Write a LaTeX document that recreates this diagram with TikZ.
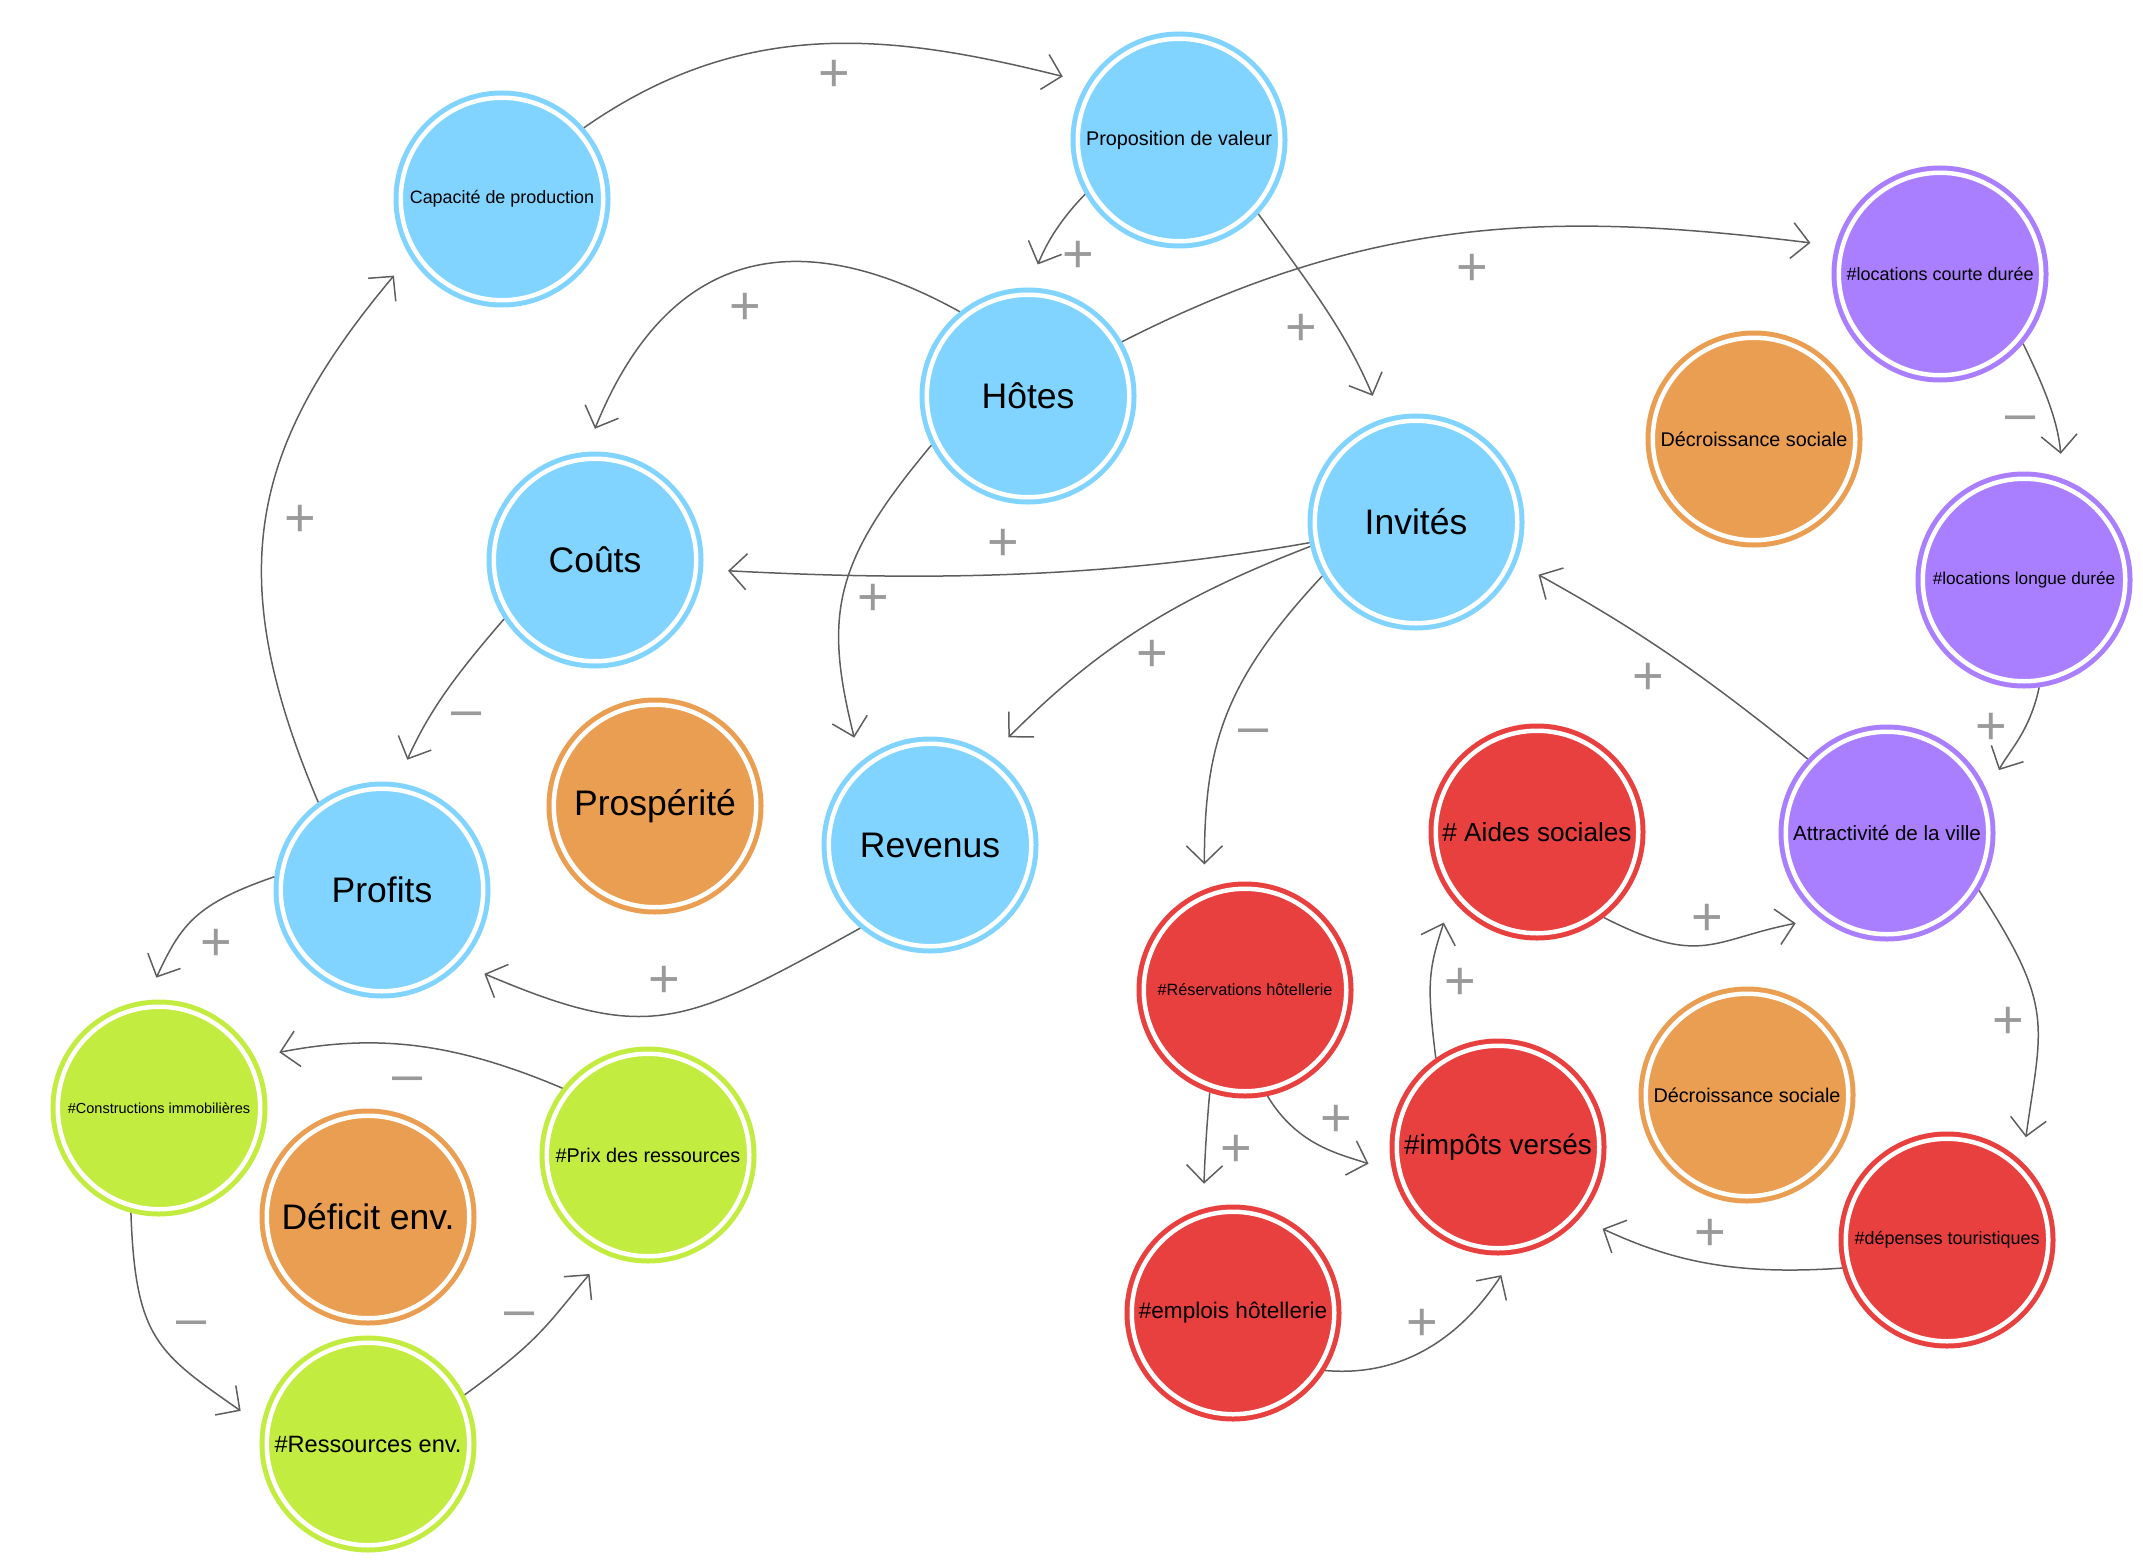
\documentclass[tikz,border=0pt]{standalone}
\usepackage{fontspec}
\setmainfont{Liberation Sans}
\usetikzlibrary{arrows.meta}
\definecolor{skyblue}{HTML}{80D4FF}
\definecolor{sandorange}{HTML}{EA9E52}
\definecolor{lilac}{HTML}{A97FFF}
\definecolor{tomato}{HTML}{E83F3F}
\definecolor{lime}{HTML}{C2EC40}
\definecolor{linkgray}{HTML}{5E5E5E}
\definecolor{signgray}{HTML}{9A9A9A}
\tikzstyle{ring}=[circle,minimum size=2.025cm,inner sep=0pt,outer sep=0.0725cm,line width=0.05cm,double=white,double distance=0.045cm,text=black]
\tikzstyle{bluevertex}=[ring,fill=skyblue,draw=skyblue]
\tikzstyle{orangevertex}=[ring,fill=sandorange,draw=sandorange]
\tikzstyle{purplevertex}=[ring,fill=lilac,draw=lilac]
\tikzstyle{redvertex}=[ring,fill=tomato,draw=tomato]
\tikzstyle{greenvertex}=[ring,fill=lime,draw=lime]
\tikzstyle{link}=[draw=linkgray,line width=0.015cm,-{Straight Barb[length=0.175cm,width=0.36cm]},shorten >=0.25cm]
\tikzstyle{polarity}=[text=signgray,font=\fontsize{15.4}{16}\selectfont,inner sep=0pt]

\begin{document}
\begin{tikzpicture}

    \useasboundingbox (0,0) rectangle (21.43,-15.65);

    % business loop
    \foreach \pos/\name/\fs/\label in {{(5.02,-1.99)/cap/5.1/Capacité de production}, {(11.79,-1.40)/prop/5.63/Proposition de valeur},
        {(10.28,-3.96)/hotes/10.1/Hôtes}, {(5.95,-5.60)/couts/10.1/Coûts}, {(14.16,-5.22)/invites/10.1/Invités},
        {(9.30,-8.45)/revenus/10.1/Revenus}, {(3.82,-8.90)/profits/10.1/Profits}}
        \node[bluevertex] (\name) at \pos {\fontsize{\fs}{\fs}\selectfont \label};

    \foreach \pos/\name/\fs/\label in {{(6.55,-8.06)/prosp/10.1/Prospérité}, {(17.54,-4.39)/decroA/5.63/Décroissance sociale},
        {(17.47,-10.95)/decroB/5.63/Décroissance sociale}, {(3.68,-12.17)/deficit/10.1/Déficit env.}}
        \node[orangevertex] (\name) at \pos {\fontsize{\fs}{\fs}\selectfont \label};

    \foreach \pos/\name/\fs/\label in {{(19.40,-2.74)/lcd/5.12/\#locations courte durée}, {(20.24,-5.80)/lld/4.89/\#locations longue durée},
        {(18.87,-8.33)/attr/5.86/Attractivité de la ville}}
        \node[purplevertex] (\name) at \pos {\fontsize{\fs}{\fs}\selectfont \label};

    \foreach \pos/\name/\fs/\label in {{(15.37,-8.32)/aides/7.45/\# Aides sociales}, {(12.45,-9.90)/resa/4.64/\#Réservations hôtellerie},
        {(14.98,-11.47)/impots/7.94/\#impôts versés}, {(19.47,-12.40)/depenses/5.12/\#dépenses touristiques},
        {(12.33,-13.13)/emplois/6.43/\#emplois hôtellerie}}
        \node[redvertex] (\name) at \pos {\fontsize{\fs}{\fs}\selectfont \label};

    \foreach \pos/\name/\fs/\label in {{(1.59,-11.08)/constr/4.13/\#Constructions immobilières}, {(6.48,-11.55)/prix/5.63/\#Prix des ressources},
        {(3.68,-14.44)/ressources/6.71/\#Ressources env.}}
        \node[greenvertex] (\name) at \pos {\fontsize{\fs}{\fs}\selectfont \label};

       \draw[link] (cap.41) to[out=35,in=166] (prop.148);
       \draw[link] (prop.210) to[out=226,in=67] (hotes.90);
       \draw[link] (prop.-43) to[out=-54,in=113] (invites.108);
       \draw[link] (hotes.129) to[out=151,in=68,looseness=1.3] (couts.95);
       \draw[link] (hotes.30) to[out=27,in=173] (lcd.165);
       \draw[link] (hotes.207) to[out=230,in=104,looseness=1.2] (revenus.130);
       \draw[link] (invites.191) to[out=190,in=357,looseness=0.9] (couts.-5);
       \draw[link] (invites.193) to[out=201,in=45] (revenus.56);
       \draw[link] (invites.210) to[out=227,in=90,looseness=1.1] (resa.112);
       \draw[link] (couts.213) to[out=229,in=66] (profits.82);
       \draw[link] (profits.126) to[out=113,in=230,looseness=1.15] (cap.212);
       \draw[link] (revenus.230) to[out=209,in=337,looseness=1.3] (profits.-43);

       \draw[link] (profits.173) to[out=199,in=65,looseness=1.2] (constr.97);
       \draw[link] (prix.142) to[out=157,in=11] (constr.28);
       \draw[link] (constr.255) to[out=272,in=145,looseness=1.3] (ressources.170);
       \draw[link] (ressources.27) to[out=36,in=230,looseness=1.2] (prix.247);

       \draw[link] (lcd.-40) to[out=-64,in=95] (lld.69);
       \draw[link] (lld.-82) to[out=258,in=63] (attr.22);
       \draw[link] (attr.137) to[out=141,in=331] (invites.-22);
       \draw[link] (aides.-52) to[out=-27,in=191,looseness=1.3] (attr.232);
       \draw[link] (attr.-32) to[out=-57,in=82,looseness=1.3] (depenses.46);
       \draw[link] (depenses.195) to[out=184,in=335] (impots.-41);
       \draw[link] (impots.125) to[out=97,in=252,looseness=1.2] (aides.218);
       \draw[link] (resa.251) to[out=265,in=88] (emplois.106);
       \draw[link] (resa.-78) to[out=-59,in=162] (impots.193);
       \draw[link] (emplois.-32) to[out=-5,in=237] (impots.-81);

    % signs
    \foreach \pos/\name/\sign in {{(8.34,-0.76)/s1/+}, {(10.78,-2.57)/s2/+}, {(13.01,-3.30)/s3/+}, {(7.45,-3.09)/s4/+},
        {(14.72,-2.70)/s5/+}, {(8.73,-6.00)/s6/+}, {(10.03,-5.45)/s7/+}, {(11.52,-6.56)/s8/+}, {(12.54,-7.37)/s9/–},
        {(4.67,-7.20)/s10/–}, {(3.00,-5.21)/s11/+}, {(6.64,-9.82)/s12/+}, {(2.16,-9.45)/s13/+}, {(4.08,-10.85)/s14/–},
        {(1.92,-13.29)/s15/–}, {(5.20,-13.20)/s16/–}, {(20.21,-4.24)/s17/–}, {(19.91,-7.29)/s18/+}, {(16.48,-6.79)/s19/+},
        {(17.07,-9.20)/s20/+}, {(20.08,-10.23)/s21/+}, {(17.10,-12.35)/s22/+}, {(14.60,-9.84)/s23/+}, {(12.36,-11.51)/s24/+},
        {(13.36,-11.21)/s25/+}, {(14.22,-13.25)/s26/+}}
        \node[polarity] (\name) at \pos {\sign};

\end{tikzpicture}
\end{document}
